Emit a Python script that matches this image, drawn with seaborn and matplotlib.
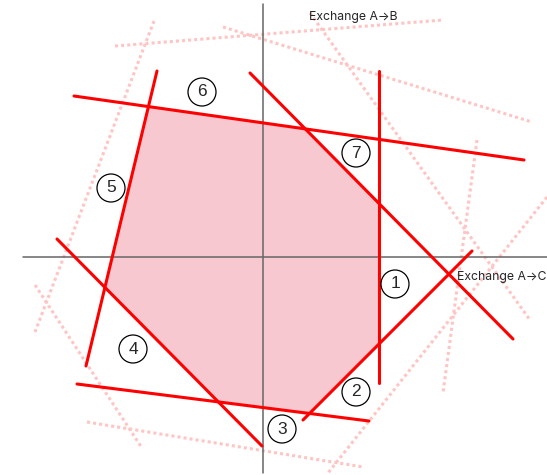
import numpy as np
import pandas as pd
import matplotlib
matplotlib.use("Agg")
import matplotlib.pyplot as plt
from matplotlib.patches import Circle, Polygon
import seaborn as sns

# constraint lines (solid red), endpoints as (x0, y0, x1, y1)
line_ids = ["1", "2", "3", "4", "5", "6", "7"]
line_x0 = [116, 209, -186, -206, -106, -189, -13]
line_y0 = [186, 6, -127, 18, 186, 161, 184]
line_x1 = [116, 40, 106, -1, -177, 261, 250]
line_y1 = [-126, -163, -164, -189, -109, 97, -82]

# faint dotted lines in the background
dot_ids = ["A", "B", "C", "D", "E", "F", "G", "H"]
dot_x0 = [-109, -148, -40, 47, 214, 284, -228, -176]
dot_y0 = [236, 211, 230, 244, 117, 60, -28, -165]
dot_x1 = [-228, 180, 269, 267, 180, 65, -121, 100]
dot_y1 = [-75, 237, 135, -63, -136, -216, -191, -210]

# circled labels
label_text = ["1", "2", "3", "4", "5", "6", "7"]
label_x = [132, 93, 19, -130, -152, -61, 93]
label_y = [-27, -135, -172, -92, 69, 165, 104]

# order in which the constraints bound the feasible region
region_order = ["6", "7", "1", "2", "3", "4", "5"]


def segments(ids, x0, y0, x1, y1):
    rows = []
    for i, k in enumerate(ids):
        rows.append((k, 0, x0[i], y0[i]))
        rows.append((k, 1, x1[i], y1[i]))
    return pd.DataFrame(rows, columns=["line", "pt", "x", "y"])


def intersect(a, b):
    p1 = np.array([a[0], a[1]], float); p2 = np.array([a[2], a[3]], float)
    p3 = np.array([b[0], b[1]], float); p4 = np.array([b[2], b[3]], float)
    d1 = p2 - p1; d2 = p4 - p3
    t = np.cross(p3 - p1, d2) / np.cross(d1, d2)
    return p1 + t * d1


solid = segments(line_ids, line_x0, line_y0, line_x1, line_y1)
dotted = segments(dot_ids, dot_x0, dot_y0, dot_x1, dot_y1)

lines = {k: (line_x0[i], line_y0[i], line_x1[i], line_y1[i]) for i, k in enumerate(line_ids)}
verts = []
for i in range(len(region_order)):
    a = lines[region_order[i]]
    b = lines[region_order[(i + 1) % len(region_order)]]
    verts.append(intersect(a, b))

sns.set_style("white")
plt.rcParams["font.family"] = ["Liberation Sans", "DejaVu Sans"]

fig = plt.figure(figsize=(5.47, 4.75), dpi=100)
ax = fig.add_axes([0, 0, 1, 1])
ax.set_xlim(-263, 284)
ax.set_ylim(-218, 257)
ax.set_aspect("equal")
ax.axis("off")

ax.add_patch(Polygon(verts, closed=True, facecolor="#f7c8d0", edgecolor="#333333", lw=0.6, zorder=1))

sns.lineplot(data=dotted, x="x", y="y", units="line", estimator=None, sort=False,
             color="#ffc4c4", lw=2.2, linestyle=(0, (1, 1)), ax=ax, zorder=0)

# axes
ax.plot([-240, 284], [0, 0], color="#666666", lw=1.1, zorder=2)
ax.plot([0, 0], [253, -216], color="#666666", lw=1.1, zorder=2)

sns.lineplot(data=solid, x="x", y="y", units="line", estimator=None, sort=False,
             color="red", lw=2.2, ax=ax, zorder=3)

for t, x, y in zip(label_text, label_x, label_y):
    ax.add_patch(Circle((x, y), 14, facecolor="white", edgecolor="black", lw=0.9, zorder=4))
    ax.text(x, y, t, ha="center", va="center", fontsize=12.5, zorder=5)

ax.text(46, 240, "Exchange A\u2192B", ha="left", va="center", fontsize=8.8,
        family=["Inter", "DejaVu Sans"], zorder=5)
ax.text(194, -20, "Exchange A\u2192C", ha="left", va="center", fontsize=8.8,
        family=["Inter", "DejaVu Sans"], zorder=5)

ax.set_xlabel("")
ax.set_ylabel("")
fig.savefig("out.png", dpi=100)
